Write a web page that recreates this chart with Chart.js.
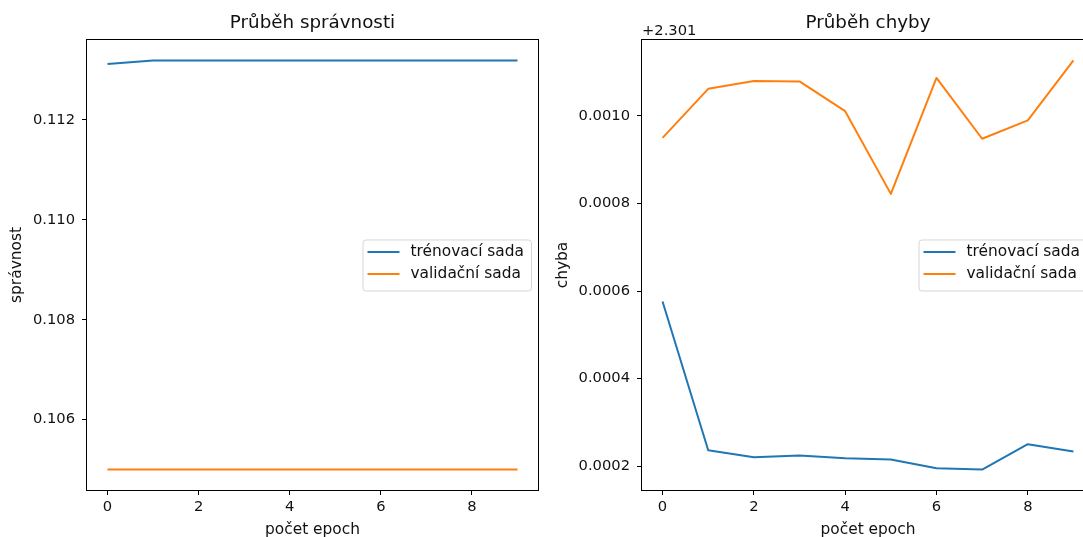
<!DOCTYPE html>
<html>
<head>
<meta charset="utf-8">
<script src="https://cdn.jsdelivr.net/npm/chart.js@4"></script>
<style>
  html, body { margin: 0; padding: 0; background: #fff; overflow: hidden; width: 1083px; height: 537px; }
  #acc_graph { position: absolute; left: 0; top: 0; }
  #loss_graph { position: absolute; left: 545px; top: 0; }
</style>
</head>
<body>
<canvas id="acc_graph" width="545" height="537"></canvas>
<canvas id="loss_graph" width="575" height="537"></canvas>
<script>
const epochs = [0, 1, 2, 3, 4, 5, 6, 7, 8, 9];
const seriesNames = ['trénovací sada', 'validační sada'];

const trainAcc = [0.11312, 0.11319, 0.11319, 0.11319, 0.11319, 0.11319, 0.11319, 0.11319, 0.11319, 0.11319];
const validAcc = [0.1050, 0.1050, 0.1050, 0.1050, 0.1050, 0.1050, 0.1050, 0.1050, 0.1050, 0.1050];

const trainLoss = [2.301576, 2.301236, 2.301220, 2.301224, 2.301218, 2.301215, 2.301195, 2.301192, 2.301250, 2.301233];
const validLoss = [2.301950, 2.302062, 2.302080, 2.302079, 2.302011, 2.301822, 2.302087, 2.301948, 2.301990, 2.302127];

const epochTicks = [0, 2, 4, 6, 8];
const accTicks = [0.106, 0.108, 0.110, 0.112];
const lossOffset = 2.301;
const lossTicks = [2.3012, 2.3014, 2.3016, 2.3018, 2.3020];

const FONT = 'DejaVu Sans';
const FS = 14.7;      // tick labels
const LFS = 15.4;     // legend and axis titles
const BLUE = '#1f77b4';
const ORANGE = '#ff7f0e';

// matplotlib-style autoscale: 5% margin on both sides
function limits(arrs) {
    const all = arrs.flat();
    const lo = Math.min(...all), hi = Math.max(...all);
    const m = (hi - lo) * 0.05;
    return { min: lo - m, max: hi + m };
}

function points(ys) {
    return epochs.map((x, i) => ({ x: x, y: ys[i] }));
}

// box around the plot area
const framePlugin = {
    id: 'frame',
    afterDatasetsDraw(chart) {
        const a = chart.chartArea;
        const ctx = chart.ctx;
        ctx.save();
        ctx.strokeStyle = '#000';
        ctx.lineWidth = 1;
        ctx.strokeRect(Math.round(a.left) - 0.5, Math.round(a.top) - 0.5,
            Math.round(a.right - a.left) + 1, Math.round(a.bottom - a.top) + 1);
        ctx.restore();
    }
};

// legend box at center right inside the axes
const innerLegend = {
    id: 'innerLegend',
    afterDraw(chart) {
        const a = chart.chartArea;
        const ctx = chart.ctx;
        ctx.save();
        ctx.font = LFS + 'px "' + FONT + '"';
        const sets = chart.data.datasets;
        const tw = Math.max(...sets.map(d => ctx.measureText(d.label).width));
        const w = 48 + tw + 7;
        const h = 51;
        const right = a.right - 7;
        const left = right - w;
        const cy = (a.top + a.bottom) / 2;
        const top = cy - 25.5;
        ctx.beginPath();
        ctx.roundRect(left + 0.5, top + 0.5, w, h, 3);
        ctx.fillStyle = 'rgba(255,255,255,0.8)';
        ctx.fill();
        ctx.strokeStyle = 'rgba(204,204,204,0.8)';
        ctx.lineWidth = 1;
        ctx.stroke();
        sets.forEach((d, i) => {
            const y = top + 12.5 + i * 22;
            ctx.beginPath();
            ctx.moveTo(left + 5, y);
            ctx.lineTo(left + 37, y);
            ctx.strokeStyle = d.borderColor;
            ctx.lineWidth = 2;
            ctx.stroke();
            ctx.fillStyle = '#111';
            ctx.textBaseline = 'middle';
            ctx.textAlign = 'left';
            ctx.fillText(d.label, left + 48, y);
        });
        ctx.restore();
    }
};

// offset text above the loss axis
const offsetText = {
    id: 'offsetText',
    afterDraw(chart) {
        const o = chart.options.plugins.offsetText;
        if (!o || !o.text) return;
        const ctx = chart.ctx;
        ctx.save();
        ctx.font = FS + 'px "' + FONT + '"';
        ctx.fillStyle = '#111';
        ctx.textAlign = 'left';
        ctx.textBaseline = 'alphabetic';
        ctx.fillText(o.text, chart.chartArea.left, 35);
        ctx.restore();
    }
};

function makeChart(id, cfg) {
    const ctx = document.getElementById(id);
    const lim = limits([cfg.train, cfg.valid]);
    return new Chart(ctx, {
        type: 'line',
        data: {
            datasets: [
                {
                    label: seriesNames[0],
                    data: points(cfg.train),
                    borderColor: BLUE,
                    backgroundColor: BLUE,
                    borderWidth: 2,
                    pointRadius: 0,
                    borderJoinStyle: 'round',
                },
                {
                    label: seriesNames[1],
                    data: points(cfg.valid),
                    borderColor: ORANGE,
                    backgroundColor: ORANGE,
                    borderWidth: 2,
                    pointRadius: 0,
                    borderJoinStyle: 'round',
                },
            ]
        },
        options: {
            responsive: false,
            animation: false,
            events: [],
            layout: { padding: { left: 0, right: cfg.padRight, top: 0, bottom: 0 } },
            plugins: {
                legend: { display: false },
                tooltip: { enabled: false },
                offsetText: { text: cfg.offsetText },
                title: {
                    display: true,
                    text: cfg.title,
                    fullSize: false,
                    color: '#111',
                    font: { family: FONT, size: 18.3, weight: 'normal', lineHeight: 1.2 },
                    padding: { top: 12, bottom: 6 },
                }
            },
            scales: {
                x: {
                    type: 'linear',
                    min: -0.45,
                    max: 9.45,
                    afterBuildTicks: axis => { axis.ticks = epochTicks.map(v => ({ value: v })); },
                    afterFit: axis => { axis.height = 47; },
                    grid: { display: true, drawOnChartArea: false, drawTicks: true, tickLength: 5, tickColor: '#000', tickWidth: 1 },
                    border: { display: false },
                    ticks: {
                        color: '#111',
                        padding: 3,
                        maxRotation: 0,
                        font: { family: FONT, size: FS },
                        callback: v => String(v),
                    },
                    title: {
                        display: true,
                        text: 'počet epoch',
                        color: '#111',
                        font: { family: FONT, size: LFS, lineHeight: 1 },
                        padding: { top: 0, bottom: -1 },
                    }
                },
                y: {
                    type: 'linear',
                    min: lim.min,
                    max: lim.max,
                    afterBuildTicks: axis => { axis.ticks = cfg.ticks.map(v => ({ value: v })); },
                    afterFit: axis => { axis.width = cfg.axisWidth; },
                    grid: { display: true, drawOnChartArea: false, drawTicks: true, tickLength: 5, tickColor: '#000', tickWidth: 1 },
                    border: { display: false },
                    ticks: {
                        color: '#111',
                        padding: 7,
                        font: { family: FONT, size: FS },
                        callback: cfg.tickLabel,
                    },
                    title: {
                        display: true,
                        text: cfg.yTitle,
                        color: '#111',
                        font: { family: FONT, size: LFS, lineHeight: 1.2 },
                        padding: { top: cfg.yTitlePad, bottom: 0 },
                    }
                }
            }
        },
        plugins: [framePlugin, innerLegend, offsetText],
    });
}

makeChart('acc_graph', {
    title: 'Průběh správnosti',
    yTitle: 'správnost',
    train: trainAcc,
    valid: validAcc,
    ticks: accTicks,
    tickLabel: v => v.toFixed(3),
    axisWidth: 87,
    padRight: 7,
    yTitlePad: 7.5,
    offsetText: '',
});

makeChart('loss_graph', {
    title: 'Průběh chyby',
    yTitle: 'chyba',
    train: trainLoss,
    valid: validLoss,
    ticks: lossTicks,
    tickLabel: v => (v - lossOffset).toFixed(4),
    axisWidth: 97,
    padRight: 26,
    yTitlePad: 8.5,
    offsetText: '+' + lossOffset,
});
</script>
</body>
</html>
